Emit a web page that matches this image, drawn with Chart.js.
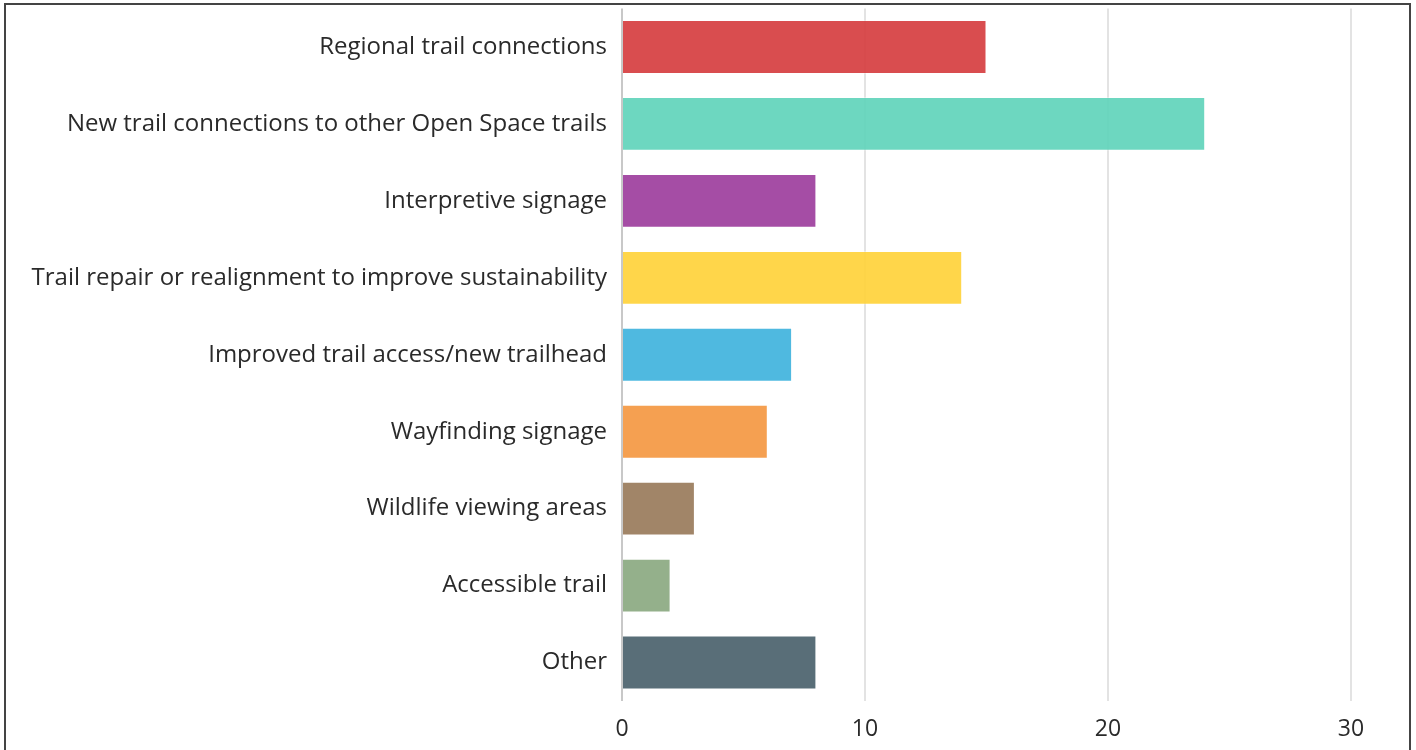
<!DOCTYPE html>
<html>
<head>
<meta charset="utf-8">
<script src="https://cdn.jsdelivr.net/npm/chart.js@4"></script>
<style>
    body { margin: 0; background: #fff; overflow: hidden; }
    #frame {
        position: absolute;
        left: 4px;
        top: 3px;
        width: 1403px;
        height: 800px;
        border: 2px solid #444;
    }
    #chartBox { position: relative; width: 1403px; height: 744px; }
</style>
</head>
<body>
<div id="frame">
    <div id="chartBox"><canvas id="trailChart"></canvas></div>
</div>
<script>
// Chart data
const categories = [
    "Regional trail connections",
    "New trail connections to other Open Space trails",
    "Interpretive signage",
    "Trail repair or realignment to improve sustainability",
    "Improved trail access/new trailhead",
    "Wayfinding signage",
    "Wildlife viewing areas",
    "Accessible trail",
    "Other"
];
const responses = [15, 24, 8, 14, 7, 6, 3, 2, 8];
const barColors = [
    "rgba(214, 64, 66, 0.93)",
    "rgba(98, 212, 187, 0.93)",
    "rgba(158, 64, 158, 0.93)",
    "rgba(255, 211, 60, 0.93)",
    "rgba(66, 180, 222, 0.93)",
    "rgba(244, 153, 68, 0.93)",
    "rgba(154, 124, 92, 0.93)",
    "rgba(140, 170, 130, 0.93)",
    "rgba(76, 99, 110, 0.93)"
];
const xTicks = [0, 10, 20, 30];

const fontFamily = "'Open Sans', sans-serif";

// Build chart
function drawChart() {
    const ctx = document.getElementById("trailChart");
    new Chart(ctx, {
        type: 'bar',
        data: {
            labels: categories,
            datasets: [{
                data: responses,
                backgroundColor: barColors,
                borderColor: "rgba(255, 255, 255, 0.35)",
                borderWidth: 1,
                barPercentage: 0.7,
                categoryPercentage: 1
            }]
        },
        options: {
            indexAxis: 'y',
            responsive: true,
            maintainAspectRatio: false,
            animation: false,
            layout: { padding: { top: 3.5, right: 58, left: 0, bottom: 0 } },
            plugins: {
                legend: { display: false },
                tooltip: { enabled: false }
            },
            scales: {
                x: {
                    min: 0,
                    max: 30,
                    afterBuildTicks: (scale) => {
                        scale.ticks = xTicks.map(v => ({ value: v }));
                    },
                    afterFit: (scale) => { scale.height = 48; },
                    grid: {
                        drawTicks: false,
                        lineWidth: 2,
                        color: (c) => c.tick && c.tick.value === 0 ? "#c8c8c8" : "#e3e3e3"
                    },
                    border: { display: false },
                    ticks: {
                        padding: 15,
                        color: "#2a2a2a",
                        font: { family: fontFamily, size: 23 }
                    }
                },
                y: {
                    // keep the label padding from pushing the plot down
                    afterFit: (scale) => {
                        scale.width = 616;
                        scale.paddingTop = 0;
                        scale.paddingBottom = 0;
                    },
                    grid: { display: false, drawTicks: false },
                    border: { display: false },
                    ticks: {
                        padding: 15,
                        color: "#2a2a2a",
                        font: { family: fontFamily, size: 24 }
                    }
                }
            }
        }
    });
}

window.onload = drawChart;
</script>
</body>
</html>
